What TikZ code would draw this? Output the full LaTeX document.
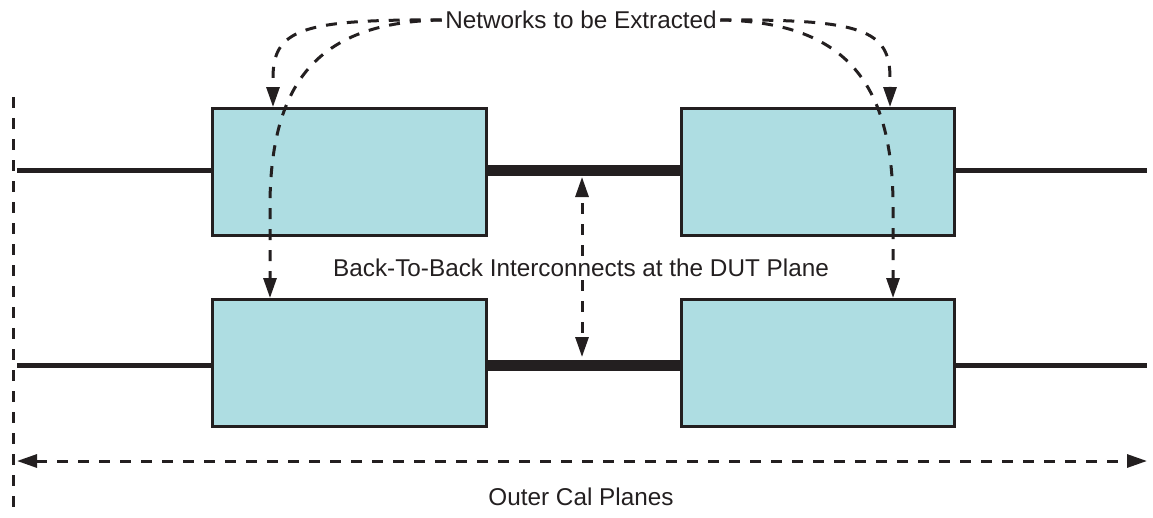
\documentclass[tikz,border=0pt]{standalone}
\usepackage{fontspec}
\setmainfont{Liberation Sans}
\usetikzlibrary{arrows.meta}
\definecolor{boxfill}{RGB}{174,221,226}
\definecolor{ink}{RGB}{35,31,32}
\begin{document}
\begin{tikzpicture}[x=1pt,y=-1pt,
  every node/.style={font=\fontsize{24.3}{28}\selectfont, text=ink},
  blk/.style={draw=ink, line width=3pt, fill=boxfill, minimum width=274pt, minimum height=127pt, inner sep=0pt, anchor=north west},
  wire/.style={draw=ink, line width=5pt},
  bus/.style={draw=ink, line width=11pt},
  dsh/.style={draw=ink, line width=3pt, dash pattern=on 11pt off 10pt},
  tip/.style={-{Triangle[length=20pt,width=13pt]}},
  tips/.style={{Triangle[length=20pt,width=13pt]}-{Triangle[length=20pt,width=13pt]}}]
\useasboundingbox (0,0) rectangle (1153,517);
% coordinates
\coordinate (l1) at (17,170);
\coordinate (r1) at (1147,170);
\coordinate (l2) at (17,365);
\coordinate (r2) at (1147,365);
% wires
\draw[wire] (l1) -- (211,170);
\draw[wire] (953,170) -- (r1);
\draw[wire] (l2) -- (211,365);
\draw[wire] (953,365) -- (r2);
\draw[bus] (485,170) -- (680,170);
\draw[bus] (485,365) -- (680,365);
% blocks
\node[blk] (tl) at (211,107) {};
\node[blk, minimum width=273pt] (tr) at (680,107) {};
\node[blk] (bl) at (211,298) {};
\node[blk, minimum width=273pt] (br) at (680,298) {};
% labels
\node (net) at (581,20) {Networks to be Extracted};
\node (b2b) at (581,268) {Back-To-Back Interconnects at the DUT Plane};
\node (ocp) at (581,497) {Outer Cal Planes};
% outer cal plane
\coordinate (vt) at (13,97);
\coordinate (vb) at (13,517);
\draw[dsh] (vt) -- (vb);
\coordinate (al) at (17,461);
\coordinate (ar) at (1147,461);
\draw[dsh,tips] (al) -- (ar);
% networks arrows
\coordinate (tla) at (273,107);
\coordinate (bla) at (270,298);
\coordinate (tra) at (890,107);
\coordinate (bra) at (893,298);
\draw[dsh,tip] (net.west) .. controls (300,19) and (273,30) .. (273,78) -- (tla);
\draw[dsh,tip] (net.west) .. controls (320,22) and (272,80) .. (270,200) -- (bla);
\draw[dsh,tip] (net.east) .. controls (863,19) and (890,30) .. (890,78) -- (tra);
\draw[dsh,tip] (net.east) .. controls (843,22) and (891,80) .. (893,200) -- (bra);
% DUT plane arrows
\coordinate (mt) at (582,177);
\coordinate (mb) at (582,357);
\draw[dsh,tip] (b2b.north -| mt) -- (mt);
\draw[dsh,tip] (b2b.south -| mb) -- (mb);
\end{tikzpicture}
\end{document}
